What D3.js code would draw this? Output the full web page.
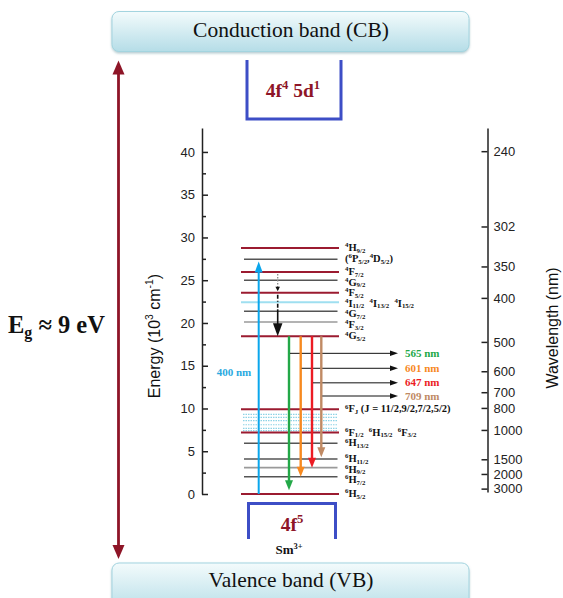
<!DOCTYPE html>
<html>
<head>
<meta charset="utf-8">
<script src="https://cdn.jsdelivr.net/npm/d3@7"></script>
<style>
  body { margin: 0; background: #fff; }
  svg { display: block; }
  text { white-space: pre; }
</style>
</head>
<body>
<svg id="chart" width="563" height="598"></svg>
<script>
// energy levels of Sm3+ (10^3 cm^-1)
const levelNames = [`^{4}H_{9/2}`, `(^{6}P_{5/2},^{4}D_{5/2})`, `^{4}F_{7/2}`, `^{4}G_{9/2}`, `^{4}F_{5/2}`,
  `^{4}I_{11/2}  ^{4}I_{13/2}  ^{4}I_{15/2}`, `^{4}G_{7/2}`, `^{4}F_{3/2}`, `^{4}G_{5/2}`,
  `^{6}F_{J} (J = 11/2,9/2,7/2,5/2)`, `^{6}F_{1/2}  ^{6}H_{15/2}  ^{6}F_{3/2}`,
  `^{6}H_{13/2}`, `^{6}H_{11/2}`, `^{6}H_{9/2}`, `^{6}H_{7/2}`, `^{6}H_{5/2}`];
const levelEnergies = [28.77, 27.45, 25.96, 24.99, 23.54, 22.42, 21.37, 20.11, 18.44, 9.9, 7.19, 5.93, 4.09, 3.08, 2.02, 0];
const levelKinds = [`main`, `grey`, `main`, `grey`, `main`, `blue`, `grey`, `light`, `main`, `main`, `main`, `grey`, `grey`, `light`, `grey`, `main`];
// unlabelled sub-levels between 6FJ and 6F1/2
const dottedEnergies = [9.32, 8.97, 8.57, 8.1, 7.68, 7.4];

// emissions from 4G5/2
const emissionNm = [565, 601, 647, 709];
const emissionTo = [0.45, 2.02, 3.08, 4.3];
const emissionTextE = [16.45, 14.7, 13.0, 11.46];
const emissionColors = [`#23a848`, `#f7891f`, `#ec1c24`, `#c08a64`];

const excitationNm = 400;
const excitationTo = 27.2;

const energyTicks = [0, 5, 10, 15, 20, 25, 30, 35, 40];
const energyMinor = [2.5, 7.5, 12.5, 17.5, 22.5, 27.5, 32.5, 37.5];
const wavelengthTicks = [240, 302, 350, 400, 500, 600, 700, 800, 1000, 1500, 2000, 3000];

const svg = d3.select(`#chart`);
const serif = `"Liberation Serif", "Times New Roman", serif`;
const sans = `"Liberation Sans", Arial, sans-serif`;

const y = d3.scaleLinear().domain([0, 42.8]).range([494, 128]);
// wavelength axis is linear in wavenumber
const yw = d3.scaleLinear().domain([2.95, 44.3]).range([492, 128]);

const levelX0 = 241, levelX1 = 339;

// text with ^{sup} and _{sub}
const richText = (sel, str, size, supK = 0.42, subK = 0.2) => {
  const re = /(\^|_)\{([^}]*)\}|([^^_]+)/g;
  let m, shift = 0;
  while ((m = re.exec(str)) !== null) {
    let target = 0, fs = size;
    if (m[1] === `^`) { target = -size * supK; fs = size * 0.65; }
    if (m[1] === `_`) { target = size * subK; fs = size * 0.65; }
    sel.append(`tspan`)
      .attr(`dy`, target - shift)
      .attr(`font-size`, fs)
      .text(m[1] ? m[2] : m[3]);
    shift = target;
  }
  return sel;
};

const arrow = (g, x1, y1, x2, y2, color, w, hw, hl) => {
  const a = Math.atan2(y2 - y1, x2 - x1);
  const bx = x2 - hl * Math.cos(a), by = y2 - hl * Math.sin(a);
  g.append(`line`)
    .attr(`x1`, x1).attr(`y1`, y1).attr(`x2`, bx + Math.cos(a)).attr(`y2`, by + Math.sin(a))
    .attr(`stroke`, color).attr(`stroke-width`, w);
  const px = -Math.sin(a) * hw / 2, py = Math.cos(a) * hw / 2;
  g.append(`path`)
    .attr(`d`, `M${x2},${y2}L${bx + px},${by + py}L${bx - px},${by - py}Z`)
    .attr(`fill`, color);
};

// band gradients
const defs = svg.append(`defs`);
const grad = defs.append(`linearGradient`).attr(`id`, `band`).attr(`x1`, 0).attr(`y1`, 0).attr(`x2`, 0).attr(`y2`, 1);
grad.append(`stop`).attr(`offset`, `0%`).attr(`stop-color`, `#f3fbfc`);
grad.append(`stop`).attr(`offset`, `100%`).attr(`stop-color`, `#b5dde7`);
defs.append(`filter`).attr(`id`, `shadow`)
  .append(`feDropShadow`).attr(`dx`, 0).attr(`dy`, 1.5).attr(`stdDeviation`, 1.2)
  .attr(`flood-color`, `#6a9aa5`).attr(`flood-opacity`, 0.5);

const bands = [
  {name: `Conduction band (CB)`, top: 11.5, h: 40, base: 37},
  {name: `Valence band (VB)`, top: 563, h: 50, base: 587}
];
bands.forEach(b => {
  svg.append(`rect`)
    .attr(`x`, 112).attr(`y`, b.top).attr(`width`, 357).attr(`height`, b.h)
    .attr(`rx`, 7).attr(`fill`, `url(#band)`)
    .attr(`stroke`, `#a3d4df`).attr(`stroke-width`, 1)
    .attr(`filter`, `url(#shadow)`);
  svg.append(`text`)
    .attr(`x`, 291).attr(`y`, b.base)
    .attr(`text-anchor`, `middle`)
    .attr(`font-family`, serif).attr(`font-size`, 21.5)
    .attr(`fill`, `#111`)
    .text(b.name);
});

// band gap arrow
const eg = svg.append(`g`);
arrow(eg, 118.5, 300, 118.5, 60.5, `#8e1527`, 2.8, 12, 14);
arrow(eg, 118.5, 300, 118.5, 559, `#8e1527`, 2.8, 12, 14);
richText(svg.append(`text`)
  .attr(`x`, 8).attr(`y`, 333)
  .attr(`font-family`, serif).attr(`font-weight`, `bold`).attr(`fill`, `#111`), `E_{g} ≈ 9 eV`, 24.5, 0.42, 0.22);

// 4f4 5d1 and 4f5 configuration brackets
svg.append(`path`)
  .attr(`d`, `M247,60V119H341V60`)
  .attr(`fill`, `none`).attr(`stroke`, `#3d4ec6`).attr(`stroke-width`, 3);
richText(svg.append(`text`)
  .attr(`x`, 293).attr(`y`, 97).attr(`text-anchor`, `middle`)
  .attr(`font-family`, serif).attr(`font-weight`, `bold`).attr(`fill`, `#8e1527`), `4f^{4} 5d^{1}`, 19.5);

svg.append(`path`)
  .attr(`d`, `M248.5,539V503.5H335.5V539`)
  .attr(`fill`, `none`).attr(`stroke`, `#3d4ec6`).attr(`stroke-width`, 3);
richText(svg.append(`text`)
  .attr(`x`, 292).attr(`y`, 531).attr(`text-anchor`, `middle`)
  .attr(`font-family`, serif).attr(`font-weight`, `bold`).attr(`fill`, `#8e1527`), `4f^{5}`, 19.5);
richText(svg.append(`text`)
  .attr(`x`, 289).attr(`y`, 554).attr(`text-anchor`, `middle`)
  .attr(`font-family`, serif).attr(`font-weight`, `bold`).attr(`fill`, `#111`), `Sm^{3+}`, 13);

// energy axis
const axL = svg.append(`g`)
  .attr(`transform`, `translate(202,0)`)
  .call(d3.axisLeft(y).tickValues(energyTicks).tickSizeInner(-6).tickSizeOuter(0).tickPadding(7));
svg.append(`g`)
  .attr(`transform`, `translate(202,0)`)
  .call(d3.axisLeft(y).tickValues(energyMinor).tickSizeInner(-4).tickSizeOuter(0).tickFormat(``))
  .select(`.domain`).remove();

// wavelength axis
const axR = svg.append(`g`)
  .attr(`transform`, `translate(487.5,0)`)
  .call(d3.axisRight(yw).tickValues(wavelengthTicks.map(l => 1e4 / l))
    .tickFormat((d, i) => wavelengthTicks[i])
    .tickSizeInner(-6).tickSizeOuter(0).tickPadding(6));

[axL, axR].forEach(ax => {
  ax.selectAll(`path, line`).attr(`stroke`, `#222`).attr(`stroke-width`, 1.5);
  ax.selectAll(`text`).attr(`font-family`, sans).attr(`font-size`, 13).attr(`fill`, `#222`);
});
svg.selectAll(`.tick line`).attr(`stroke`, `#222`).attr(`stroke-width`, 1.5);

richText(svg.append(`text`)
  .attr(`transform`, `translate(160,336) rotate(-90)`)
  .attr(`text-anchor`, `middle`)
  .attr(`font-family`, sans).attr(`fill`, `#111`), `Energy (10^{3} cm^{-1})`, 16);
svg.append(`text`)
  .attr(`transform`, `translate(558,328) rotate(-90)`)
  .attr(`text-anchor`, `middle`)
  .attr(`font-family`, sans).attr(`font-size`, 16).attr(`fill`, `#111`)
  .text(`Wavelength (nm)`);

// levels
const kindStyle = {
  main: {c: `#9b1b30`, w: 2, inset: 0},
  grey: {c: `#555`, w: 1.4, inset: 3},
  light: {c: `#9a9a9a`, w: 1.6, inset: 3},
  blue: {c: `#9fdff0`, w: 2, inset: 0}
};
const levels = svg.append(`g`);
levels.selectAll(`line.dot`)
  .data(dottedEnergies)
  .enter().append(`line`)
  .attr(`x1`, levelX0 + 2).attr(`x2`, levelX1 - 1)
  .attr(`y1`, d => y(d)).attr(`y2`, d => y(d))
  .attr(`stroke`, `#8fd3e6`).attr(`stroke-width`, 1.2)
  .attr(`stroke-dasharray`, `1.5,1`);

// labels pushed down so they don't collide
let prevBase = -Infinity;
levelEnergies.forEach((e, i) => {
  const s = kindStyle[levelKinds[i]];
  levels.append(`line`)
    .attr(`x1`, levelX0 + s.inset).attr(`x2`, levelX1 - s.inset / 2)
    .attr(`y1`, y(e)).attr(`y2`, y(e))
    .attr(`stroke`, s.c).attr(`stroke-width`, s.w);
  const base = Math.max(y(e) + 3, prevBase + 10.6);
  prevBase = base;
  richText(levels.append(`text`)
    .attr(`x`, 345).attr(`y`, base)
    .attr(`font-family`, serif).attr(`font-weight`, `bold`).attr(`fill`, `#111`), levelNames[i], 10.5, 0.36, 0.16);
});

// excitation
const tr = svg.append(`g`);
arrow(tr, 258.7, y(0), 258.7, y(excitationTo), `#0aa6ec`, 2, 8, 11);
tr.append(`text`)
  .attr(`x`, 234).attr(`y`, 376).attr(`text-anchor`, `middle`)
  .attr(`font-family`, serif).attr(`font-weight`, `bold`).attr(`font-size`, 11)
  .attr(`fill`, `#2aa9e0`)
  .text(`${excitationNm} nm`);

// non-radiative relaxation 4F7/2 -> 4G5/2
tr.append(`line`)
  .attr(`x1`, 277.7).attr(`x2`, 277.7).attr(`y1`, y(levelEnergies[2]) + 2).attr(`y2`, y(23.9))
  .attr(`stroke`, `#888`).attr(`stroke-width`, 1.3).attr(`stroke-dasharray`, `1.5,1.5`);
arrow(tr, 277.7, y(23.9), 277.7, y(23.7), `#111`, 1, 4.5, 4.5);
tr.append(`line`)
  .attr(`x1`, 277.7).attr(`x2`, 277.7).attr(`y1`, y(23.3)).attr(`y2`, y(21.6))
  .attr(`stroke`, `#111`).attr(`stroke-width`, 1.6).attr(`stroke-dasharray`, `4,2,1,2`);
arrow(tr, 277.7, y(21.6), 277.7, y(levelEnergies[8]), `#111`, 1.6, 9.5, 13);

// emissions
const emX = [289, 300.7, 312, 321.3];
emissionNm.forEach((nm, i) => {
  arrow(tr, emX[i], y(levelEnergies[8]), emX[i], y(emissionTo[i]), emissionColors[i], 2.4, 8, 10);
  arrow(tr, emX[i] + 1, y(emissionTextE[i]), 398, y(emissionTextE[i]), `#111`, 1, 5.5, 8);
  tr.append(`text`)
    .attr(`x`, 405).attr(`y`, y(emissionTextE[i]) + 3.5)
    .attr(`font-family`, serif).attr(`font-weight`, `bold`).attr(`font-size`, 11)
    .attr(`fill`, emissionColors[i])
    .text(`${nm} nm`);
});
</script>
</body>
</html>
